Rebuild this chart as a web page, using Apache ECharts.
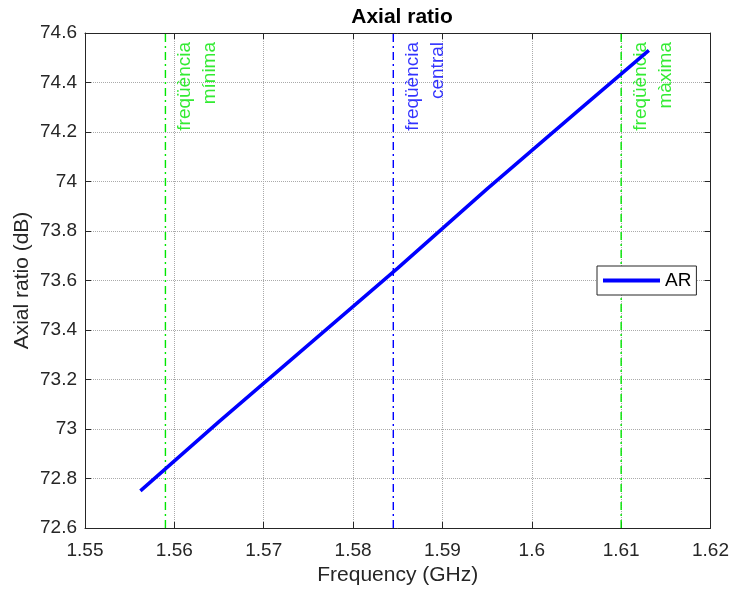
<!DOCTYPE html>
<html>
<head>
<meta charset="utf-8">
<script src="https://cdn.jsdelivr.net/npm/echarts@6/dist/echarts.min.js"></script>
<style>
  html, body { margin: 0; padding: 0; background: #fff; }
  #chart { width: 732px; height: 591px; }
</style>
</head>
<body>
<div id="chart"></div>
<script>
// Axial ratio vs frequency
const freqGHz = [1.5562, 1.565, 1.575, 1.585, 1.595, 1.605, 1.6131];
const axialRatioDb = [72.75, 73.03, 73.34, 73.65, 73.97, 74.28, 74.53];

// Band markers: minimum, central and maximum frequency
const markerFreqs = [1.559, 1.5845, 1.61];
const markerLabels = ['freqüència\nmínima', 'freqüència\ncentral', 'freqüència\nmàxima'];
const markerColors = ['#00e600', '#0000ff', '#00e600'];

const xTicks = { min: 1.55, max: 1.62, interval: 0.01 };
const yTicks = { min: 72.6, max: 74.6, interval: 0.2 };

const FONT = "'Liberation Sans', Arial, Helvetica, sans-serif";
const AXIS_COLOR = '#262626';
const dashDot = [8, 4, 2, 4];

const chart = echarts.init(document.getElementById('chart'), null, { renderer: 'canvas' });

const series = [{
  name: 'AR',
  type: 'line',
  data: freqGHz.map((f, i) => [f, axialRatioDb[i]]),
  showSymbol: false,
  symbol: 'none',
  lineStyle: { color: '#0000ff', width: 3.5 },
  itemStyle: { color: '#0000ff' },
  z: 5
}];

markerFreqs.forEach((f, i) => {
  series.push({
    name: 'marker' + i,
    type: 'line',
    data: [[f, yTicks.min], [f, yTicks.max]],
    symbol: 'none',
    lineStyle: { color: markerColors[i], width: 1.4, type: dashDot },
    silent: true,
    z: 3
  });
  series.push({
    name: 'markerLabel' + i,
    type: 'scatter',
    data: [[f, yTicks.max]],
    symbolSize: 0,
    itemStyle: { color: 'transparent' },
    silent: true,
    label: {
      show: true,
      formatter: markerLabels[i],
      position: [7, 9],
      rotate: 90,
      align: 'right',
      verticalAlign: 'top',
      color: markerColors[i],
      fontFamily: FONT,
      fontSize: 19,
      lineHeight: 25
    },
    z: 4
  });
});

const gridLine = { show: true, lineStyle: { color: '#aaaaaa', type: [1, 1], width: 1 } };

chart.setOption({
  animation: false,
  backgroundColor: '#ffffff',
  title: {
    text: 'Axial ratio',
    left: 397,
    textAlign: 'center',
    top: 2,
    textStyle: { fontFamily: FONT, fontSize: 21, fontWeight: 'bold', color: '#000' }
  },
  grid: { left: 85, right: 21, top: 33, bottom: 63, containLabel: false },
  legend: {
    data: [{ name: 'AR', icon: 'rect' }],
    left: 597,
    top: 266,
    orient: 'vertical',
    itemWidth: 57,
    itemHeight: 4,
    itemGap: 0,
    padding: [5, 5, 5, 6],
    borderColor: AXIS_COLOR,
    borderWidth: 1,
    backgroundColor: '#ffffff',
    textStyle: { fontFamily: FONT, fontSize: 19, color: '#000' }
  },
  xAxis: [{
    type: 'value',
    min: xTicks.min, max: xTicks.max, interval: xTicks.interval,
    name: 'Frequency (GHz)',
    nameLocation: 'middle',
    nameGap: 37,
    nameMoveOverlap: false,
    nameTextStyle: { fontFamily: FONT, fontSize: 21, color: AXIS_COLOR },
    axisLine: { show: true, onZero: false, lineStyle: { color: AXIS_COLOR, width: 1 } },
    axisTick: { show: true, inside: true, length: 6, lineStyle: { color: AXIS_COLOR } },
    axisLabel: {
      fontFamily: FONT, fontSize: 19, color: AXIS_COLOR, margin: 13,
      formatter: v => String(+v.toFixed(2))
    },
    splitLine: gridLine
  }, {
    type: 'value', position: 'top',
    min: xTicks.min, max: xTicks.max, interval: xTicks.interval,
    axisLine: { show: true, onZero: false, lineStyle: { color: AXIS_COLOR, width: 1 } },
    axisTick: { show: true, inside: true, length: 6, lineStyle: { color: AXIS_COLOR } },
    axisLabel: { show: false },
    splitLine: { show: false }
  }],
  yAxis: [{
    type: 'value',
    min: yTicks.min, max: yTicks.max, interval: yTicks.interval,
    name: 'Axial ratio (dB)',
    nameLocation: 'middle',
    nameGap: 52,
    nameMoveOverlap: false,
    nameTextStyle: { fontFamily: FONT, fontSize: 21, color: AXIS_COLOR },
    axisLine: { show: true, onZero: false, lineStyle: { color: AXIS_COLOR, width: 1 } },
    axisTick: { show: true, inside: true, length: 6, lineStyle: { color: AXIS_COLOR } },
    axisLabel: {
      fontFamily: FONT, fontSize: 19, color: AXIS_COLOR, margin: 8,
      formatter: v => String(+v.toFixed(1))
    },
    splitLine: gridLine
  }, {
    type: 'value', position: 'right',
    min: yTicks.min, max: yTicks.max, interval: yTicks.interval,
    axisLine: { show: true, onZero: false, lineStyle: { color: AXIS_COLOR, width: 1 } },
    axisTick: { show: true, inside: true, length: 6, lineStyle: { color: AXIS_COLOR } },
    axisLabel: { show: false },
    splitLine: { show: false }
  }],
  series: series
});
</script>
</body>
</html>
